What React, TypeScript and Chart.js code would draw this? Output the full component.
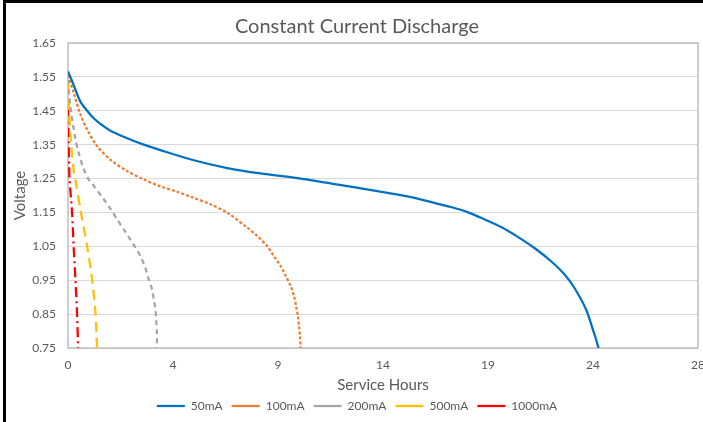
import React, { useEffect, useRef } from "react";
import { Chart, registerables } from "chart.js";

Chart.register(...registerables);

const chartTitle = "Constant Current Discharge";
const xAxisTitle = "Service Hours";
const yAxisTitle = "Voltage";

const seriesLabels = ["50mA", "100mA", "200mA", "500mA", "1000mA"];

const hours50 = [0, 0.18, 0.33, 0.55, 0.85, 1.14, 1.51, 1.88, 2.63, 3.37, 4.11, 5.59, 7.08, 8.56, 10.34, 12.57, 14.79, 15.54, 16.28, 17.02, 17.76, 18.5, 19.25, 19.99, 20.73, 21.47, 22.07, 22.51, 23.03, 23.33, 23.47, 23.58];
const volts50 = [1.566, 1.538, 1.512, 1.477, 1.45, 1.428, 1.408, 1.391, 1.369, 1.35, 1.334, 1.304, 1.281, 1.265, 1.25, 1.226, 1.201, 1.191, 1.178, 1.166, 1.151, 1.13, 1.107, 1.078, 1.045, 1.006, 0.967, 0.927, 0.863, 0.804, 0.775, 0.75];

const hours100 = [0, 0.25, 0.55, 0.85, 1.29, 1.88, 2.63, 3.37, 4.11, 4.85, 5.59, 6.34, 7.08, 7.97, 8.42, 8.86, 9.15, 9.45, 9.68, 9.9, 10.05, 10.14, 10.22, 10.27, 10.31, 10.34];
const volts100 = [1.555, 1.504, 1.44, 1.395, 1.346, 1.306, 1.272, 1.247, 1.227, 1.211, 1.193, 1.174, 1.149, 1.105, 1.08, 1.05, 1.021, 0.992, 0.962, 0.932, 0.902, 0.873, 0.843, 0.814, 0.784, 0.75];

const hours200 = [0, 0.1, 0.33, 0.47, 0.7, 0.92, 1.07, 1.59, 1.88, 2.18, 2.48, 2.77, 3.0, 3.22, 3.44, 3.59, 3.74, 3.81, 3.89, 3.92, 3.95, 3.96];
const volts200 = [1.54, 1.465, 1.367, 1.327, 1.278, 1.247, 1.235, 1.189, 1.161, 1.13, 1.1, 1.07, 1.046, 1.021, 0.986, 0.952, 0.922, 0.893, 0.863, 0.833, 0.794, 0.75];

const hours500 = [0, 0.03, 0.1, 0.25, 0.33, 0.55, 0.85, 1.07, 1.22, 1.29];
const volts500 = [1.53, 1.49, 1.386, 1.275, 1.245, 1.159, 1.05, 0.952, 0.854, 0.75];

const hours1000 = [0, 0.02, 0.05, 0.07, 0.18, 0.25, 0.33, 0.4, 0.45];
const volts1000 = [1.46, 1.38, 1.29, 1.247, 1.15, 1.05, 0.952, 0.854, 0.75];

const xTickLabels = ["0", "4", "9", "14", "19", "24", "28"];
const xMin = 0;
const xMax = 28;
const yTickValues = [0.75, 0.85, 0.95, 1.05, 1.15, 1.25, 1.35, 1.45, 1.55, 1.65];

const seriesColors = ["#0070C0", "#ED7D31", "#A5A5A5", "#FFC000", "#FF0000"];
const seriesDashes: number[][] = [[], [3, 2], [5, 4], [10, 6], [10, 4, 2, 4]];

const toPoints = (xs: number[], ys: number[]) => xs.map((x, i) => ({ x, y: ys[i] }));

const seriesData = [
  toPoints(hours50, volts50),
  toPoints(hours100, volts100),
  toPoints(hours200, volts200),
  toPoints(hours500, volts500),
  toPoints(hours1000, volts1000),
];

const FONT = "Lato, 'Liberation Sans', sans-serif";
const TEXT = "#595959";

const plotBorder = {
  id: "plotBorder",
  beforeDatasetsDraw(chart: any) {
    const { ctx, chartArea } = chart;
    const { left, top, right, bottom } = chartArea;
    ctx.save();
    ctx.strokeStyle = "#bfbfbf";
    ctx.lineWidth = 1.5;
    ctx.strokeRect(left, top, right - left, bottom - top);
    ctx.restore();
  },
};

export default function App() {
  const ref = useRef<HTMLCanvasElement | null>(null);

  useEffect(() => {
    document.body.style.margin = "0";
    const canvas = ref.current;
    if (!canvas) return;
    const chart = new Chart(canvas, {
      type: "line",
      data: {
        datasets: seriesLabels.map((label, i) => ({
          label,
          data: seriesData[i],
          borderColor: seriesColors[i],
          backgroundColor: seriesColors[i],
          borderWidth: 2.25,
          borderDash: seriesDashes[i],
          pointRadius: 0,
          pointHoverRadius: 0,
          fill: false,
          tension: 0.3,
        })),
      },
      options: {
        animation: false,
        responsive: false,
        parsing: false as any,
        layout: { padding: { left: 16, right: 5, top: 0, bottom: 0 } },
        plugins: {
          title: {
            display: true,
            text: chartTitle,
            color: TEXT,
            font: { family: FONT, size: 20, weight: "normal" },
            padding: { top: 15, bottom: 4 },
          },
          legend: {
            position: "bottom",
            labels: {
              color: TEXT,
              font: { family: FONT, size: 12 },
              usePointStyle: true,
              pointStyle: "line",
              pointStyleWidth: 28,
              boxHeight: 12,
              padding: 9,
            },
          },
          tooltip: { enabled: false },
        },
        scales: {
          x: {
            type: "linear",
            min: xMin,
            max: xMax,
            afterBuildTicks: (scale: any) => {
              scale.ticks = xTickLabels.map((_, i) => ({
                value: xMin + (i * (xMax - xMin)) / (xTickLabels.length - 1),
              }));
            },
            afterFit: (scale: any) => {
              scale.paddingRight = 0;
              scale.height = 43;
            },
            ticks: {
              color: TEXT,
              font: { family: FONT, size: 12 },
              padding: 10,
              maxRotation: 0,
              autoSkip: false,
              callback: (_v: any, i: number) => xTickLabels[i],
            },
            grid: { display: false, drawTicks: false },
            border: { display: false },
            title: {
              display: true,
              text: xAxisTitle,
              color: TEXT,
              font: { family: FONT, size: 15, lineHeight: 1 },
              padding: { top: 0, bottom: -1.5 },
            },
          },
          y: {
            type: "linear",
            min: yTickValues[0],
            max: yTickValues[yTickValues.length - 1],
            afterBuildTicks: (scale: any) => {
              scale.ticks = yTickValues.map((v) => ({ value: v }));
            },
            afterFit: (scale: any) => {
              scale.width = 52;
            },
            ticks: {
              color: TEXT,
              font: { family: FONT, size: 12 },
              padding: 12,
              autoSkip: false,
              callback: (v: any) => Number(v).toFixed(2),
            },
            grid: { color: "#d9d9d9", lineWidth: 1, drawTicks: false },
            border: { display: false },
            title: {
              display: true,
              text: yAxisTitle,
              color: TEXT,
              font: { family: FONT, size: 15, lineHeight: 1 },
              padding: { top: -3.5, bottom: 0 },
            },
          },
        },
      },
      plugins: [plotBorder],
    });
    return () => chart.destroy();
  }, []);

  return (
    <div style={{ position: "relative", width: 703, height: 422, overflow: "hidden", background: "#fff" }}>
      <canvas ref={ref} width={703} height={422} style={{ display: "block" }} />
      <div
        style={{
          position: "absolute",
          left: 3,
          top: 0,
          width: 710,
          height: 430,
          borderLeft: "3px solid #000",
          borderTop: "3px solid #000",
          boxSizing: "border-box",
          pointerEvents: "none",
        }}
      />
    </div>
  );
}
